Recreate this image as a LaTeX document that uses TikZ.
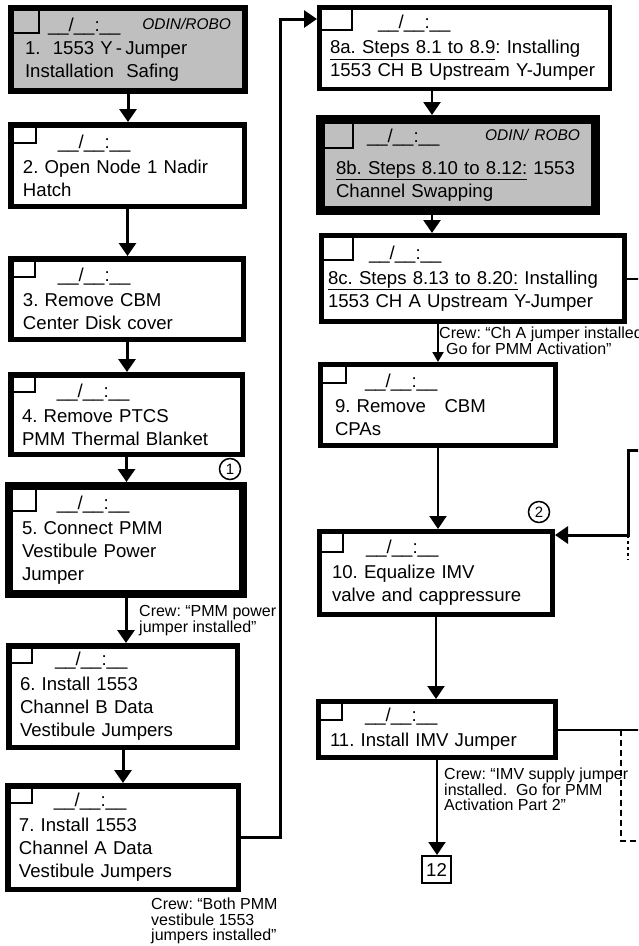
\documentclass[tikz,border=0pt]{standalone}
\usepackage{fontspec}
\setmainfont{Liberation Sans}
\usetikzlibrary{positioning,arrows.meta,calc}

\newcommand\timeslot[1][35pt]{\hspace*{#1}\_\_/\_\_:\_\_}
\newcommand\odinfont{\fontsize{15.5}{15}\selectfont\itshape}
\frenchspacing

\begin{document}
\begin{tikzpicture}[x=1pt, y=-1pt, >={Triangle[length=13pt,width=17pt]},
  every node/.style={font=\fontsize{18.6}{23}\selectfont},
  stepbox/.style={draw, anchor=north west, align=left, inner ysep=0pt},
  chkbox/.style={draw, line width=2pt, anchor=north west, inner sep=0pt, outer sep=0pt},
  crewnote/.style={anchor=north west, align=left, inner sep=0pt, font=\fontsize{16}{15.5}\selectfont},
  marker/.style={draw, circle, line width=1.5pt, minimum size=21pt, inner sep=0pt, font=\fontsize{15}{15}\selectfont},
  flow/.style={->, line width=3pt}]
  \useasboundingbox (0,0) rectangle (638,946);
  \clip (0,0) rectangle (638,946);

  \node[stepbox, fill=black!25, line width=6pt, minimum width=234pt, minimum height=83pt,
        inner xsep=14pt, text width=206pt] (s1) at (8,5)
        {\timeslot[23pt]\hfill\raisebox{2pt}{\odinfont ODIN/ROBO}\\
         1.\ \ 1553 Y\,-\,Jumper\\Installation\ \ Safing};
  \node[stepbox, line width=5.5pt, minimum width=233.5pt, minimum height=81.5pt,
        inner xsep=12.25pt, text width=209pt] (s2) at (8,122)
        {\timeslot\\[2pt]2. Open Node 1 Nadir\\Hatch};
  \node[stepbox, line width=5.5pt, minimum width=232.5pt, minimum height=80.5pt,
        inner xsep=12.25pt, text width=208pt] (s3) at (8,256)
        {\timeslot\\[2pt]3. Remove CBM\\Center Disk cover};
  \node[stepbox, line width=5.5pt, minimum width=231.5pt, minimum height=79.5pt,
        inner xsep=11.25pt, text width=209pt] (s4) at (8,372)
        {\timeslot\\[2pt]4. Remove PTCS\\PMM Thermal Blanket};
  \node[stepbox, line width=8pt, minimum width=234pt, minimum height=108pt,
        inner xsep=13pt, text width=208pt] (s5) at (5,482)
        {\timeslot\\[2pt]5. Connect PMM\\Vestibule Power\\Jumper};
  \node[stepbox, line width=5.5pt, minimum width=228.5pt, minimum height=101.5pt,
        inner xsep=11.25pt, text width=206pt] (s6) at (6,643)
        {\timeslot\\[2pt]6. Install 1553\\Channel B Data\\Vestibule Jumpers};
  \node[stepbox, line width=5.5pt, minimum width=230.5pt, minimum height=103.5pt,
        inner xsep=11.25pt, text width=208pt] (s7) at (5,783)
        {\timeslot\\[2pt]7. Install 1553\\Channel A Data\\Vestibule Jumpers};

  \node[stepbox, line width=4.5pt, minimum width=290.5pt, minimum height=81.5pt,
        inner xsep=10.75pt, text width=269pt] (s8a) at (317,5)
        {\timeslot[48pt]\\[2pt]\underline{8a. Steps 8.1 to 8.9}: Installing\\1553 CH B Upstream Y-Jumper};
  \node[stepbox, fill=black!25, line width=9pt, minimum width=275pt, minimum height=91pt,
        inner xsep=15.5pt, text width=244pt] (s8b) at (316,115)
        {\timeslot[31pt]\hfill\raisebox{2pt}{\odinfont ODIN/ ROBO}\hspace*{10pt}\\[9pt]
         \underline{8b. Steps 8.10 to 8.12:} 1553\\Channel Swapping};
  \node[stepbox, line width=5pt, minimum width=303pt, minimum height=86pt,
        inner xsep=6.5pt, text width=290pt] (s8c) at (319,233)
        {\timeslot[41pt]\\[2pt]\underline{8c. Steps 8.13 to 8.20:} Installing\\1553 CH A Upstream Y-Jumper};
  \node[stepbox, line width=5pt, minimum width=235pt, minimum height=81pt,
        inner xsep=14.5pt, text width=206pt] (s9) at (318,362)
        {\timeslot[30pt]\\[2pt]9. Remove\ \ \ CBM\\CPAs};
  \node[stepbox, line width=5pt, minimum width=233pt, minimum height=83pt,
        inner xsep=12.5pt, text width=208pt] (s10) at (317,529)
        {\timeslot[34pt]\\[2pt]10. Equalize IMV\\valve and cappressure};
  \node[stepbox, line width=5pt, minimum width=237pt, minimum height=56pt,
        inner xsep=11.5pt, text width=214pt] (s11) at (316,699)
        {\timeslot\\[2pt]11. Install IMV Jumper};
  \node[draw, line width=2pt, minimum width=29pt, minimum height=27pt, inner sep=0pt] (n12) at (436.5,869.5) {12};

  \node[chkbox, minimum width=30pt, minimum height=27pt] (k1) at ([shift={(1,1)}]s1.north west) {};
  \node[chkbox, minimum width=27pt, minimum height=20pt] (k2) at ([shift={(1,1)}]s2.north west) {};
  \node[chkbox, minimum width=26pt, minimum height=20pt] (k3) at ([shift={(1,1)}]s3.north west) {};
  \node[chkbox, minimum width=26pt, minimum height=19pt] (k4) at ([shift={(1,1)}]s4.north west) {};
  \node[chkbox, minimum width=30pt, minimum height=28pt] (k5) at ([shift={(1,1)}]s5.north west) {};
  \node[chkbox, minimum width=25pt, minimum height=19pt] (k6) at ([shift={(1,1)}]s6.north west) {};
  \node[chkbox, minimum width=26pt, minimum height=19pt] (k7) at ([shift={(1,1)}]s7.north west) {};
  \node[chkbox, minimum width=34pt, minimum height=24pt] (k8a) at ([shift={(1,1)}]s8a.north west) {};
  \node[chkbox, minimum width=36pt, minimum height=32pt] (k8b) at ([shift={(1,1)}]s8b.north west) {};
  \node[chkbox, minimum width=33pt, minimum height=26pt] (k8c) at ([shift={(1,1)}]s8c.north west) {};
  \node[chkbox, minimum width=27pt, minimum height=20pt] (k9) at ([shift={(1,1)}]s9.north west) {};
  \node[chkbox, minimum width=25pt, minimum height=22pt] (k10) at ([shift={(1,1)}]s10.north west) {};
  \node[chkbox, minimum width=25pt, minimum height=20pt] (k11) at ([shift={(1,1)}]s11.north west) {};

  \node[marker] (c1) at (230,469) {1};
  \node[marker] (c2) at (539,512) {2};

  \node[crewnote, font=\fontsize{16}{13}\selectfont] (n5) at (139,605) {Crew: “PMM power\\jumper installed”};
  \node[crewnote] (n8) at (439,327) {Crew: “Ch A jumper installed.\\\hspace*{7pt}Go for PMM Activation”};
  \node[crewnote] (n7) at (151,898) {Crew: “Both PMM\\vestibule 1553\\jumpers installed”};
  \node[crewnote] (n11) at (444,768) {Crew: “IMV supply jumper\\installed.\ \ Go for PMM\\Activation Part 2”};

  \draw[flow] (s1.south) -- (s1.south |- s2.north);
  \draw[flow] (s2.south) -- (s2.south |- s3.north);
  \draw[flow] (s3.south) -- (s3.south |- s4.north);
  \draw[flow] (s4.south) -- (s4.south |- s5.north);
  \draw[flow] (s5.south) -- (s5.south |- s6.north);
  \draw[flow] (s6.south) -- (s6.south |- s7.north);
  \coordinate (riser) at (280,19);
  \draw[flow] (s7.east) -| (riser) -- (riser -| s8a.west);

  \coordinate (spine) at (432,0);
  \draw[flow, line width=2.5pt] (spine |- s8a.south) -- (spine |- s8b.north);
  \draw[flow, line width=2.5pt] (spine |- s8b.south) -- (spine |- s8c.north);
  \draw[->, line width=2pt, >={Triangle[length=10pt,width=11pt]}] (s9.north |- s8c.south) -- (s9.north);
  \draw[flow, line width=2pt] (s9.south) -- (s9.south |- s10.north);
  \draw[flow, line width=2pt] (s10.south) -- (s10.south |- s11.north);
  \draw[flow, line width=2pt] (s11.south) -- (s11.south |- n12.north);

  \coordinate (outB) at (650,280);
  \draw[line width=2pt] (s8c.east) -- (outB |- s8c.east);
  \coordinate (backIn) at (650,450);
  \coordinate (backDown) at (628,535);
  \coordinate (backStub) at (628,560);
  \draw[flow] (backIn) -| (backDown) -- (backDown -| s10.east);
  \draw[line width=2.5pt, dash pattern=on 3pt off 3pt] (backDown) -- (backStub);
  \coordinate (outC) at (650,729);
  \draw[line width=2pt] (s11.east) -- (outC |- s11.east);
  \coordinate (dashTurn) at (621,841);
  \coordinate (dashOut) at (650,841);
  \draw[line width=2pt, dash pattern=on 6pt off 4pt] (s11.east -| dashTurn) -- (dashTurn) -- (dashOut);
\end{tikzpicture}
\end{document}
